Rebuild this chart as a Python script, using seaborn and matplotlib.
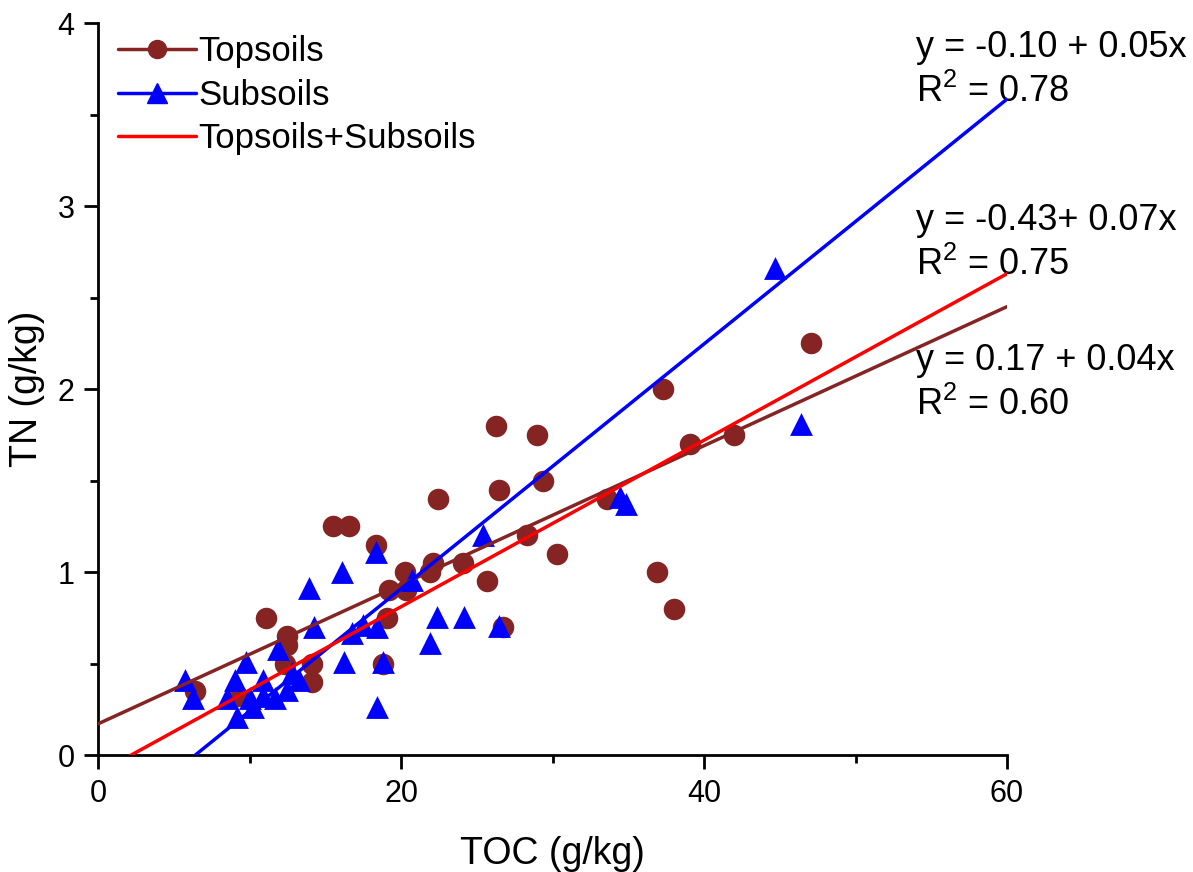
import numpy as np
import pandas as pd
import matplotlib
matplotlib.use("Agg")
import matplotlib.pyplot as plt
from matplotlib.lines import Line2D
from matplotlib.ticker import MultipleLocator
import seaborn as sns

# Topsoil samples: total organic carbon (g/kg) vs total nitrogen (g/kg)
top_toc = [6.4, 9.15, 11.1, 12.45, 12.45, 12.35, 14.1, 14.1, 15.5, 16.6,
           18.35, 19.05, 18.8, 19.2, 20.3, 20.26, 21.9, 22.1, 22.46, 24.1,
           25.7, 26.3, 26.5, 26.75, 28.3, 29.0, 29.4, 30.3, 33.6, 36.9,
           37.3, 38.0, 39.1, 42.0, 47.06]
top_tn = [0.35, 0.32, 0.75, 0.65, 0.60, 0.50, 0.50, 0.40, 1.25, 1.25,
          1.15, 0.75, 0.50, 0.90, 0.90, 1.00, 1.00, 1.05, 1.40, 1.05,
          0.95, 1.80, 1.45, 0.70, 1.20, 1.75, 1.50, 1.10, 1.40, 1.00,
          2.00, 0.80, 1.70, 1.75, 2.25]

# Subsoil samples
sub_toc = [5.74, 6.25, 8.5, 9.04, 9.15, 9.8, 10.0, 10.25, 10.9, 10.9,
           11.7, 11.9, 12.45, 12.8, 13.3, 13.9, 14.26, 16.1, 16.24, 16.75,
           17.5, 18.35, 18.4, 18.4, 18.8, 20.7, 21.9, 22.4, 24.16, 25.4,
           26.5, 34.45, 34.85, 44.7, 46.4]
sub_tn = [0.41, 0.31, 0.31, 0.41, 0.21, 0.51, 0.31, 0.265, 0.41, 0.32,
          0.31, 0.58, 0.355, 0.45, 0.41, 0.91, 0.70, 1.00, 0.51, 0.665,
          0.71, 1.11, 0.70, 0.26, 0.51, 0.956, 0.61, 0.755, 0.755, 1.20,
          0.705, 1.41, 1.37, 2.66, 1.81]

# Linear fits (TN = a + b * TOC)
fit_names = ["Topsoils+Subsoils", "Subsoils", "Topsoils"]
fit_intercepts = [-0.10, -0.43, 0.17]
fit_slopes = [0.0455, 0.0669, 0.038]
fit_r2 = [0.78, 0.75, 0.60]
fit_colors = ["#FF0000", "#0000FF", "#862424"]
eq_templates = ["y = {a:.2f} + {b:.2f}x", "y = {a:.2f}+ {b:.2f}x", "y = {a:.2f} + {b:.2f}x"]
eq_y = [3.865, 2.92, 2.155]

x_ticks = [0, 20, 40, 60]
y_ticks = [0, 1, 2, 3, 4]

sns.set_theme(style="ticks")
plt.rcParams["font.family"] = ["Liberation Sans", "DejaVu Sans"]
plt.rcParams["mathtext.fontset"] = "custom"
plt.rcParams["mathtext.rm"] = "Liberation Sans"
plt.rcParams["mathtext.default"] = "regular"
plt.rcParams["text.color"] = "black"
plt.rcParams["axes.labelcolor"] = "black"
plt.rcParams["xtick.color"] = "black"
plt.rcParams["ytick.color"] = "black"

BROWN = "#862424"
BLUE = "#0000FF"
RED = "#FF0000"

fig = plt.figure(figsize=(11.93, 8.72), dpi=100)
fig.patch.set_facecolor("white")
ax = fig.add_axes([98 / 1193, 1 - 755 / 872, (1007 - 98) / 1193, (755 - 23) / 872])
ax.set_facecolor("white")

top_df = pd.DataFrame({"TOC": top_toc, "TN": top_tn})
sub_df = pd.DataFrame({"TOC": sub_toc, "TN": sub_tn})

sns.scatterplot(data=top_df, x="TOC", y="TN", ax=ax, color=BROWN, marker="o",
                s=240, linewidth=0, zorder=3, legend=False)
sns.scatterplot(data=sub_df, x="TOC", y="TN", ax=ax, color=BLUE, marker="^",
                s=270, linewidth=0, zorder=4, legend=False)

# Regression lines across the full TOC range, clipped at TN = 0
line_x = np.array([0.0, 60.0])
for order, i in enumerate([2, 1, 0]):
    line_df = pd.DataFrame({"TOC": line_x,
                            "TN": fit_intercepts[i] + fit_slopes[i] * line_x})
    sns.lineplot(data=line_df, x="TOC", y="TN", ax=ax, color=fit_colors[i],
                 linewidth=2.5, zorder=5 + order, legend=False)

for i in range(3):
    eq = eq_templates[i].format(a=fit_intercepts[i], b=fit_slopes[i])
    ax.text(54.0, eq_y[i], eq, fontsize=26, ha="left", va="center",
            color="black", clip_on=False)
    ax.text(54.0, eq_y[i] - 0.243, "R$^{2}$ = " + f"{fit_r2[i]:.2f}",
            fontsize=26, ha="left", va="center", color="black", clip_on=False)

ax.set_xlim(0, 60)
ax.set_ylim(0, 4)
ax.set_xticks(x_ticks)
ax.set_yticks(y_ticks)
ax.xaxis.set_minor_locator(MultipleLocator(10))
ax.yaxis.set_minor_locator(MultipleLocator(0.5))

for side in ["top", "right"]:
    ax.spines[side].set_visible(False)
for side in ["left", "bottom"]:
    ax.spines[side].set_color("black")
    ax.spines[side].set_linewidth(2.0)

ax.tick_params(axis="both", which="major", direction="out", length=10, width=2.0,
               color="black", labelsize=22, labelcolor="black", pad=7)
ax.tick_params(axis="both", which="minor", direction="out", length=5.5, width=2.0,
               color="black")

ax.set_xlabel("TOC (g/kg)", fontsize=27, color="black", labelpad=20)
ax.set_ylabel("TN (g/kg)", fontsize=27, color="black", labelpad=9)

handles = [
    Line2D([], [], color=BROWN, marker="o", markersize=13, linewidth=2.5),
    Line2D([], [], color=BLUE, marker="^", markersize=14, linewidth=2.5),
    Line2D([], [], color=RED, linewidth=2.5),
]
leg = ax.legend(handles, ["Topsoils", "Subsoils", "Topsoils+Subsoils"],
                loc="upper left", bbox_to_anchor=(0.003, 1.007), frameon=False,
                fontsize=25, handlelength=2.25, handletextpad=0.05,
                labelspacing=0.3, borderaxespad=0.1)
for t in leg.get_texts():
    t.set_color("black")

fig.savefig("out.png", dpi=100, facecolor="white")
